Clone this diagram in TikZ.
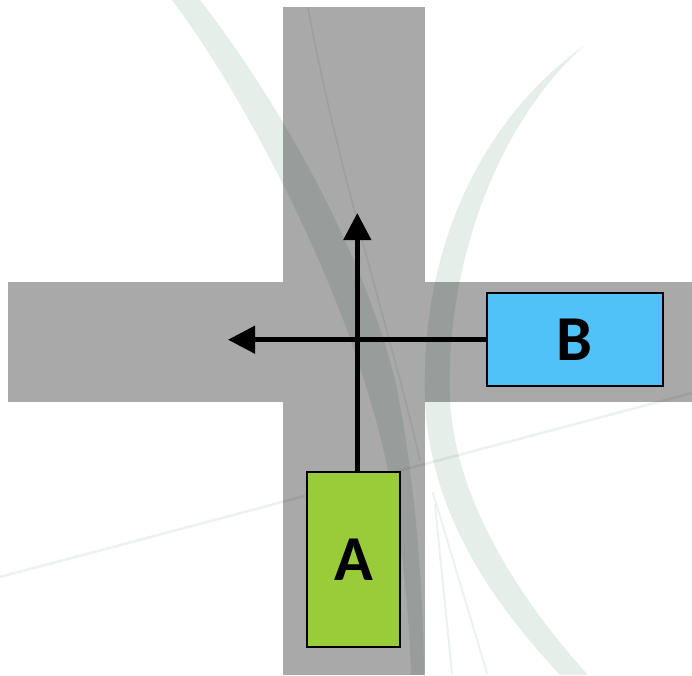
\documentclass[tikz,border=0pt]{standalone}
\usepackage{fontspec}
\setmainfont{Carlito}
\usetikzlibrary{arrows.meta}
\definecolor{road}{HTML}{A9A9A9}
\definecolor{cara}{HTML}{9ACB38}
\definecolor{carb}{HTML}{50C2F8}
\definecolor{wm}{HTML}{E6EEEA}
\definecolor{wmlight}{HTML}{EDF1EF}
\tikzset{
  roadfill/.style={fill=road, draw=none},
  car/.style={draw=black, line width=2pt, inner sep=0pt, font=\bfseries\fontsize{64}{64}\selectfont},
  move/.style={line width=4.5pt, -{Triangle[length=27pt,width=27pt]}},
  wmark/.style={fill=wm, draw=none},
  wline/.style={draw=wmlight, line cap=round}
}
\begin{document}
\begin{tikzpicture}[x=1pt,y=-1pt]
\useasboundingbox (0,0) rectangle (692,675);
\fill[white] (0,0) rectangle (692,675);
% roads
\fill[roadfill] (283,7) rectangle (425,675);
\fill[roadfill] (8,282) rectangle (692,402);
% watermark
\begin{scope}[blend mode=multiply]
\fill[wmark] (172,0) .. controls (240,90) and (330,260) .. (370,400)
  .. controls (395,480) and (408,580) .. (411,675) -- (424,675)
  .. controls (423,560) and (410,450) .. (395,380)
  .. controls (360,240) and (270,90) .. (200,0) -- cycle;
\fill[wmark] (585,45) .. controls (480,120) and (420,250) .. (425,400)
  .. controls (430,520) and (500,610) .. (560,675) -- (588,675)
  .. controls (520,600) and (455,500) .. (450,400)
  .. controls (445,260) and (500,120) .. (585,45) -- cycle;
\draw[wline, line width=2.5pt] (0,577) -- (692,393);
\draw[wline, line width=1.5pt] (308,8) .. controls (340,180) and (390,330) .. (420,460);
\draw[wline, line width=2pt] (433,493) -- (487,673);
\draw[wline, line width=2pt] (435,505) -- (452,673);
\end{scope}
% cars
\node[car, fill=cara, minimum width=93pt, minimum height=175pt] (A) at (353.7,559.8) {A};
\node[car, fill=carb, minimum width=176pt, minimum height=93pt] (B) at (574.7,339.7) {B};
% arrow ends
\coordinate (tA) at (357.3,213);
\coordinate (tB) at (228,339.7);
\draw[move] (A.north -| tA) -- (tA);
\draw[move] (B.west) -- (tB);
\end{tikzpicture}
\end{document}
